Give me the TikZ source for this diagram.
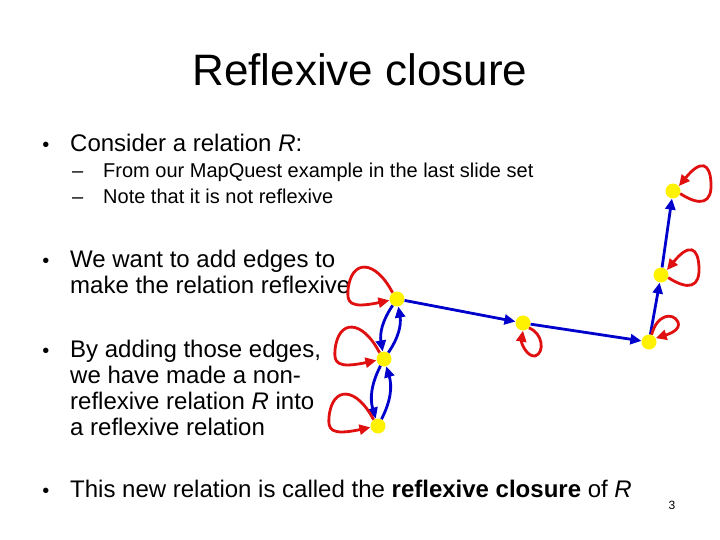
\documentclass[tikz,border=0pt]{standalone}
\usepackage{fontspec}
\setmainfont{Liberation Sans}
\usetikzlibrary{arrows.meta,calc}
\definecolor{lred}{RGB}{224,16,16}
\definecolor{lblue}{RGB}{0,0,204}
\begin{document}
\begin{tikzpicture}[x=1pt,y=-1pt,
  dot/.style={circle,fill=yellow,inner sep=0pt,minimum size=15pt},
  bedge/.style={draw=lblue,line width=2.8pt,-{Triangle[length=11pt,width=10pt]}},
  rloop/.style={draw=lred,line width=2.8pt,-{Triangle[length=11pt,width=10pt]}},
  txt/.style={anchor=base west,inner sep=0pt,font=\fontsize{24}{26}\selectfont},
  bul/.style={anchor=base,inner sep=0pt,font=\fontsize{20}{24}\selectfont},
  subtxt/.style={anchor=base west,inner sep=0pt,font=\fontsize{20}{24}\selectfont}]
\useasboundingbox (0,0) rectangle (720,540);

% title
\node[anchor=base,inner sep=0pt,font=\fontsize{44}{50}\selectfont] (title) at (360,86) {Reflexive closure};

% bullets
\node[bul] (u1) at (46,152) {•};
\node[txt] (t1) at (70,152) {Consider a relation \textit{R}:};
\node[subtxt] (d1) at (72,178) {–};
\node[subtxt] (s1) at (103,178) {From our MapQuest example in the last slide set};
\node[subtxt] (d2) at (72,204) {–};
\node[subtxt] (s2) at (103,204) {Note that it is not reflexive};

\node[bul] (u2) at (46,267) {•};
\node[txt] (t2a) at (70,267) {We want to add edges to};
\node[txt] (t2b) at (70,293) {make the relation reflexive};

\node[bul] (u3) at (46,357) {•};
\node[txt] (t3a) at (70,357) {By adding those edges,};
\node[txt] (t3b) at (70,383) {we have made a non-};
\node[txt] (t3c) at (70,409) {reflexive relation \textit{R} into};
\node[txt] (t3d) at (70,435) {a reflexive relation};

\node[bul] (u4) at (46,497) {•};
\node[txt] (t4) at (70,497) {This new relation is called the \textbf{reflexive closure} of \textit{R}};

\node[anchor=base,inner sep=0pt,font=\fontsize{12}{14}\selectfont] (pg) at (672,509) {3};

% graph nodes
\node[dot] (A) at (397,299) {};
\node[dot] (B) at (523,323) {};
\node[dot] (C) at (649,342) {};
\node[dot] (D) at (661,275) {};
\node[dot] (E) at (673,191) {};
\node[dot] (F) at (384,359) {};
\node[dot] (G) at (378,426) {};

% blue edges
\draw[bedge] (A) -- (B);
\draw[bedge] (B) -- (C);
\draw[bedge] (C) -- (D);
\draw[bedge] (D) -- (E);
\draw[bedge] (A) to[bend right=22] (F);
\draw[bedge] (F) to[bend right=22] (A);
\draw[bedge] (F) to[bend right=22] (G);
\draw[bedge] (G) to[bend right=22] (F);

% red loops (left side)
\foreach \n in {A,F,G}{
  \draw[rloop] (\n.125) .. controls ($(\n)+(-22,-40)$) and ($(\n)+(-46,-40)$) ..
    ($(\n)+(-49,-9)$) .. controls ($(\n)+(-50,3)$) and ($(\n)+(-48,10)$) .. (\n.190);
}
% red loops (right side)
\foreach \n in {D,E}{
  \draw[rloop] (\n.-20) .. controls ($(\n)+(28,16)$) and ($(\n)+(39,12)$) ..
    ($(\n)+(38,-8)$) .. controls ($(\n)+(37,-28)$) and ($(\n)+(28,-32)$) .. (\n.40);
}
% small loop at C
\draw[rloop] (C.70) .. controls ($(C)+(8,-28)$) and ($(C)+(24,-30)$) ..
  ($(C)+(29,-20)$) .. controls ($(C)+(32,-12)$) and ($(C)+(20,-8)$) .. (C.30);
% small loop at B
\draw[rloop] (B.-40) .. controls ($(B)+(20,10)$) and ($(B)+(22,30)$) ..
  ($(B)+(12,33)$) .. controls ($(B)+(4,34)$) and ($(B)+(-2,20)$) .. (B.-90);
\end{tikzpicture}
\end{document}
